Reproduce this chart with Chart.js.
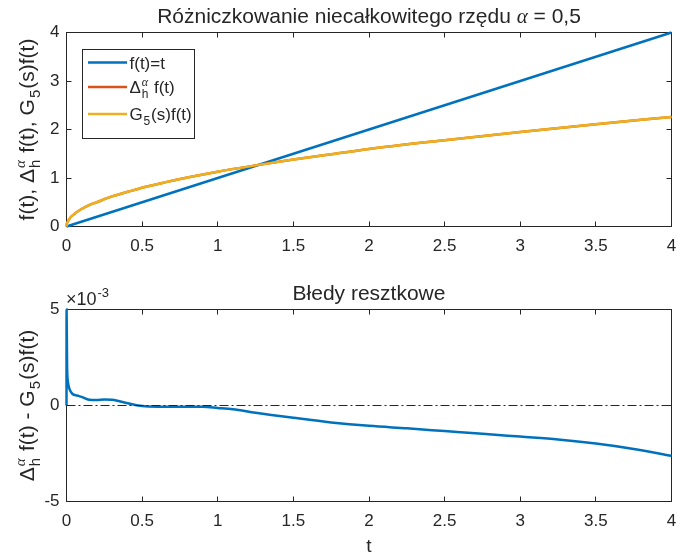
<!DOCTYPE html>
<html>
<head>
<meta charset="utf-8">
<script src="https://cdn.jsdelivr.net/npm/chart.js@4.4.1/dist/chart.umd.min.js"></script>
<style>
  body { margin: 0; background: #fff; }
  #wrap { position: relative; width: 678px; height: 556px; }
  canvas { position: absolute; left: 0; }
</style>
</head>
<body>
<div id="wrap">
  <canvas id="topChart" width="678" height="270" style="top:0"></canvas>
  <canvas id="errChart" width="678" height="286" style="top:270px"></canvas>
</div>
<script>
// upper panel: f(t)=t and its half-order derivative (Grünwald-Letnikov vs. G5 approximation)
const fT = [0, 4];
const fVals = [0, 4];
const tTop = [0, 0.002, 0.005, 0.01, 0.03, 0.06, 0.1, 0.15, 0.2, 0.3, 0.4, 0.5, 0.65, 0.8, 1.0, 1.25, 1.5, 1.75, 2.0, 2.5, 3.0, 3.5, 4.0];
const deltaVals = [0, 0.05, 0.08, 0.11, 0.2, 0.28, 0.36, 0.44, 0.5, 0.62, 0.71, 0.8, 0.91, 1.01, 1.13, 1.26, 1.38, 1.49, 1.6, 1.78, 1.95, 2.11, 2.26];
const g5Vals = [0, 0.05, 0.08, 0.11, 0.2, 0.28, 0.36, 0.44, 0.5, 0.62, 0.71, 0.8, 0.91, 1.01, 1.13, 1.26, 1.38, 1.49, 1.6, 1.78, 1.95, 2.11, 2.26];

// lower panel: residual error, in units of 1e-3
const tErr = [0, 0.0005, 0.004, 0.01, 0.02, 0.04, 0.07, 0.1, 0.15, 0.2, 0.25, 0.3, 0.35, 0.42, 0.5, 0.6, 0.75, 0.9, 1.0, 1.1, 1.25, 1.5, 1.75, 2.0, 2.25, 2.5, 2.75, 3.0, 3.25, 3.5, 3.75, 4.0];
const errVals = [0, 5, 2.0, 1.2, 0.85, 0.6, 0.52, 0.45, 0.3, 0.28, 0.31, 0.3, 0.22, 0.09, -0.03, -0.06, -0.06, -0.07, -0.13, -0.2, -0.38, -0.64, -0.88, -1.06, -1.19, -1.33, -1.47, -1.62, -1.77, -1.98, -2.26, -2.62];

const xTicks = [0, 0.5, 1, 1.5, 2, 2.5, 3, 3.5, 4];
const yTicksTop = [0, 1, 2, 3, 4];
const yTicksErr = [-5, 0, 5];

const BLUE = '#0072BD', ORANGE = '#D95319', YELLOW = '#EDB120';
const INK = '#262626';
const SANS = '"Liberation Sans", Arial, sans-serif';

function pts(xs, ys) { return xs.map((x, i) => ({ x: x, y: ys[i] })); }
function crisp(v) { return Math.round(v - 0.5) + 0.5; }

function segFont(size, greek) {
    return greek ? `italic ${size}px "Liberation Serif", serif` : `${size}px ${SANS}`;
}

// lays out text with TeX-like sub/superscripts
function layoutParts(ctx, parts, size) {
    const small = Math.round(size * 0.72);
    let x = 0;
    const ops = [];
    parts.forEach(p => {
        if (p.sub !== undefined || p.sup !== undefined) {
            let w = 0;
            x += size * 0.05;
            if (p.sup !== undefined) {
                const f = segFont(small, p.supGreek);
                ctx.font = f;
                w = Math.max(w, ctx.measureText(p.sup).width);
                ops.push({ t: p.sup, x: x, dy: -size * 0.42, font: f });
            }
            if (p.sub !== undefined) {
                const f = segFont(small, false);
                ctx.font = f;
                w = Math.max(w, ctx.measureText(p.sub).width);
                ops.push({ t: p.sub, x: x, dy: size * 0.3, font: f });
            }
            x += w + size * 0.05;
        } else {
            const f = segFont(size, p.greek);
            ctx.font = f;
            ops.push({ t: p.t, x: x, dy: 0, font: f });
            x += ctx.measureText(p.t).width;
        }
    });
    return { ops: ops, width: x };
}

function drawRich(ctx, parts, size, x, y, align) {
    const L = layoutParts(ctx, parts, size);
    const x0 = align === 'center' ? x - L.width / 2 : x;
    ctx.textAlign = 'left';
    ctx.textBaseline = 'alphabetic';
    ctx.fillStyle = INK;
    L.ops.forEach(o => { ctx.font = o.font; ctx.fillText(o.t, x0 + o.x, y + o.dy); });
}

function drawRotated(ctx, parts, size, cx, cy) {
    ctx.save();
    ctx.translate(cx, cy);
    ctx.rotate(-Math.PI / 2);
    drawRich(ctx, parts, size, 0, 0, 'center');
    ctx.restore();
}

// box around the axes and inward tick marks on all four sides
const axesBox = {
    id: 'axesBox',
    beforeDatasetsDraw(chart) {
        const { ctx, chartArea: a, scales } = chart;
        ctx.save();
        ctx.strokeStyle = INK;
        ctx.lineWidth = 1;
        ctx.strokeRect(a.left, a.top, a.right - a.left, a.bottom - a.top);
        ctx.beginPath();
        scales.x.ticks.forEach(t => {
            const px = crisp(scales.x.getPixelForValue(t.value));
            ctx.moveTo(px, a.bottom); ctx.lineTo(px, a.bottom - 5);
            ctx.moveTo(px, a.top); ctx.lineTo(px, a.top + 5);
        });
        scales.y.ticks.forEach(t => {
            const py = crisp(scales.y.getPixelForValue(t.value));
            ctx.moveTo(a.left, py); ctx.lineTo(a.left + 5, py);
            ctx.moveTo(a.right, py); ctx.lineTo(a.right - 5, py);
        });
        ctx.stroke();
        ctx.restore();
    }
};

const DELTA_H_ALPHA = [{ t: 'Δ' }, { sub: 'h', sup: 'α', supGreek: true }];

const topText = {
    id: 'topText',
    afterDraw(chart) {
        const ctx = chart.ctx;
        ctx.save();
        drawRich(ctx, [{ t: 'Różniczkowanie niecałkowitego rzędu ' }, { t: 'α', greek: true }, { t: ' = 0,5' }], 21, 369, 23, 'center');
        drawRotated(ctx, [{ t: 'f(t), ' }].concat(DELTA_H_ALPHA, [{ t: ' f(t), G' }, { sub: '5' }, { t: '(s)f(t)' }]), 21, 34, 129.5);

        // legend
        ctx.fillStyle = '#fff';
        ctx.fillRect(82.5, 49.5, 112, 89);
        ctx.strokeStyle = INK;
        ctx.lineWidth = 1;
        ctx.strokeRect(82.5, 49.5, 112, 89);
        const rows = [
            { c: BLUE, y: 62.5, parts: [{ t: 'f(t)=t' }] },
            { c: ORANGE, y: 87, parts: DELTA_H_ALPHA.concat([{ t: ' f(t)' }]) },
            { c: YELLOW, y: 114, parts: [{ t: 'G' }, { sub: '5' }, { t: '(s)f(t)' }] }
        ];
        rows.forEach(r => {
            ctx.strokeStyle = r.c;
            ctx.lineWidth = 2.5;
            ctx.beginPath();
            ctx.moveTo(88, r.y); ctx.lineTo(127, r.y);
            ctx.stroke();
            drawRich(ctx, r.parts, 17, 129.5, r.y + 6, 'left');
        });
        ctx.restore();
    }
};

const errText = {
    id: 'errText',
    afterDatasetsDraw(chart) {
        // dash-dot reference line at zero
        const { ctx, chartArea: a, scales } = chart;
        const y0 = crisp(scales.y.getPixelForValue(0));
        ctx.save();
        ctx.strokeStyle = INK;
        ctx.lineWidth = 1;
        ctx.setLineDash([9, 3, 2, 3]);
        ctx.beginPath();
        ctx.moveTo(a.left, y0); ctx.lineTo(a.right, y0);
        ctx.stroke();
        ctx.restore();
    },
    afterDraw(chart) {
        const ctx = chart.ctx;
        ctx.save();
        drawRich(ctx, [{ t: 'Błedy resztkowe' }], 21, 369, 30, 'center');
        drawRich(ctx, [{ t: '×10' }, { sup: '-3' }], 18, 66, 35, 'left');
        drawRotated(ctx, DELTA_H_ALPHA.concat([{ t: ' f(t) - G' }, { sub: '5' }, { t: '(s)f(t)' }]), 21, 34, 135.5);
        drawRich(ctx, [{ t: 't' }], 19, 369, 282, 'center');
        ctx.restore();
    }
};

function makeScales(yMin, yMax, yTicks, xHeight) {
    const tickFont = { family: SANS, size: 17 };
    return {
        x: {
            type: 'linear', min: 0, max: 4,
            grid: { display: false, drawTicks: false },
            border: { display: false },
            ticks: { color: INK, font: tickFont, padding: 10, maxRotation: 0, callback: v => String(v) },
            afterBuildTicks: s => { s.ticks = xTicks.map(v => ({ value: v })); },
            afterFit: s => { s.height = xHeight; s.paddingLeft = 0; s.paddingRight = 0; }
        },
        y: {
            type: 'linear', min: yMin, max: yMax,
            grid: { display: false, drawTicks: false },
            border: { display: false },
            ticks: { color: INK, font: tickFont, padding: 7, callback: v => String(v) },
            afterBuildTicks: s => { s.ticks = yTicks.map(v => ({ value: v })); },
            afterFit: s => { s.width = 66.5; s.paddingTop = 0; s.paddingBottom = 0; }
        }
    };
}

const common = {
    responsive: false,
    animation: false,
    events: [],
    plugins: { legend: { display: false }, tooltip: { enabled: false }, title: { display: false } }
};

new Chart(document.getElementById('topChart'), {
    type: 'scatter',
    data: {
        datasets: [
            { data: pts(tTop, g5Vals), borderColor: YELLOW, borderWidth: 2.5, showLine: true, pointRadius: 0, cubicInterpolationMode: 'monotone', clip: false, order: 1 },
            { data: pts(tTop, deltaVals), borderColor: ORANGE, borderWidth: 2.5, showLine: true, pointRadius: 0, cubicInterpolationMode: 'monotone', clip: false, order: 2 },
            { data: pts(fT, fVals), borderColor: BLUE, borderWidth: 2.5, showLine: true, pointRadius: 0, clip: false, order: 3 }
        ]
    },
    options: Object.assign({}, common, {
        layout: { padding: { top: 32.5, right: 6.5, left: 0, bottom: 0 } },
        scales: makeScales(0, 4, yTicksTop, 43.5)
    }),
    plugins: [axesBox, topText]
});

new Chart(document.getElementById('errChart'), {
    type: 'scatter',
    data: {
        datasets: [
            { data: pts(tErr, errVals), borderColor: BLUE, borderWidth: 2.5, showLine: true, pointRadius: 0, cubicInterpolationMode: 'monotone', clip: false }
        ]
    },
    options: Object.assign({}, common, {
        layout: { padding: { top: 39.5, right: 6.5, left: 0, bottom: 0 } },
        scales: makeScales(-5, 5, yTicksErr, 54.5)
    }),
    plugins: [axesBox, errText]
});
</script>
</body>
</html>
